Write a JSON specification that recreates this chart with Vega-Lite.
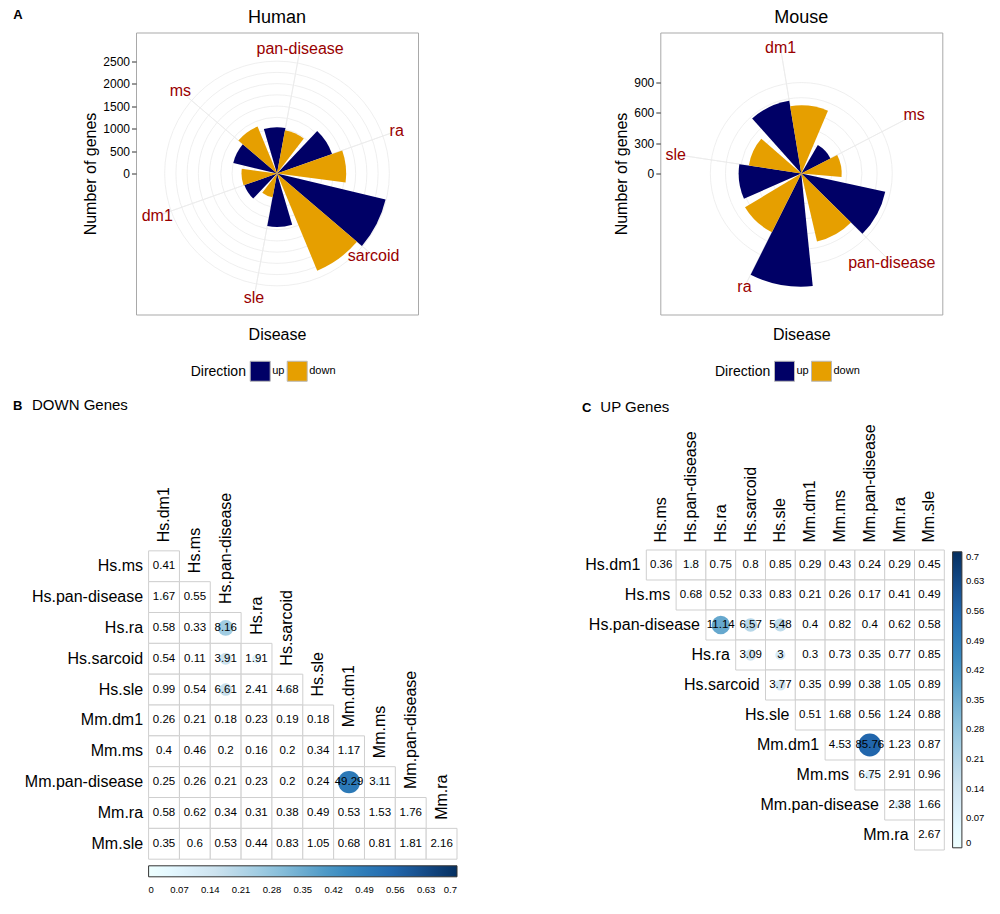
{
  "$schema": "https://vega.github.io/schema/vega-lite/v6.json",
  "padding": {"left": 13, "top": 7.5, "right": 5, "bottom": 5},
  "background": "white",
  "config": {
    "font": "Liberation Sans",
    "view": {"stroke": null},
    "axis": {"grid": false, "labelColor": "black", "titleColor": "black"},
    "title": {"color": "black", "fontWeight": "normal"}
  },
  "datasets": {
    "human": [
      {"disease": "dm1", "direction": "up", "genes": 770},
      {"disease": "dm1", "direction": "down", "genes": 790},
      {"disease": "ms", "direction": "up", "genes": 1000},
      {"disease": "ms", "direction": "down", "genes": 1130},
      {"disease": "pan-disease", "direction": "up", "genes": 1030},
      {"disease": "pan-disease", "direction": "down", "genes": 980},
      {"disease": "ra", "direction": "up", "genes": 1300},
      {"disease": "ra", "direction": "down", "genes": 1540},
      {"disease": "sarcoid", "direction": "up", "genes": 2485},
      {"disease": "sarcoid", "direction": "down", "genes": 2340},
      {"disease": "sle", "direction": "up", "genes": 1190},
      {"disease": "sle", "direction": "down", "genes": 540}
    ],
    "mouse": [
      {"disease": "dm1", "direction": "up", "genes": 730},
      {"disease": "dm1", "direction": "down", "genes": 675},
      {"disease": "ms", "direction": "up", "genes": 325},
      {"disease": "ms", "direction": "down", "genes": 400},
      {"disease": "pan-disease", "direction": "up", "genes": 850},
      {"disease": "pan-disease", "direction": "down", "genes": 690},
      {"disease": "ra", "direction": "up", "genes": 1120},
      {"disease": "ra", "direction": "down", "genes": 650},
      {"disease": "sle", "direction": "up", "genes": 620},
      {"disease": "sle", "direction": "down", "genes": 525}
    ],
    "humanGrid": [{"r": 0}, {"r": 250}, {"r": 500}, {"r": 750}, {"r": 1000}, {"r": 1250}, {"r": 1500}, {"r": 1750}, {"r": 2000}, {"r": 2250}, {"r": 2500}],
    "mouseGrid": [{"r": 0}, {"r": 150}, {"r": 300}, {"r": 450}, {"r": 600}, {"r": 750}, {"r": 900}],
    "varsA": [{"var": "Hs.dm1"}, {"var": "Hs.ms"}, {"var": "Hs.pan-disease"}, {"var": "Hs.ra"}, {"var": "Hs.sarcoid"}, {"var": "Hs.sle"}, {"var": "Mm.dm1"}, {"var": "Mm.ms"}, {"var": "Mm.pan-disease"}, {"var": "Mm.ra"}],
    "varsB": [{"var": "Hs.ms"}, {"var": "Hs.pan-disease"}, {"var": "Hs.ra"}, {"var": "Hs.sarcoid"}, {"var": "Hs.sle"}, {"var": "Mm.dm1"}, {"var": "Mm.ms"}, {"var": "Mm.pan-disease"}, {"var": "Mm.ra"}, {"var": "Mm.sle"}],
    "down": [
      {"row": "Hs.ms", "col": "Hs.dm1", "val": 0.41, "v": 0.01},
      {"row": "Hs.pan-disease", "col": "Hs.dm1", "val": 1.67, "v": 0.03},
      {"row": "Hs.pan-disease", "col": "Hs.ms", "val": 0.55, "v": 0.01},
      {"row": "Hs.ra", "col": "Hs.dm1", "val": 0.58, "v": 0.01},
      {"row": "Hs.ra", "col": "Hs.ms", "val": 0.33, "v": 0.005},
      {"row": "Hs.ra", "col": "Hs.pan-disease", "val": 8.16, "v": 0.25},
      {"row": "Hs.sarcoid", "col": "Hs.dm1", "val": 0.54, "v": 0.01},
      {"row": "Hs.sarcoid", "col": "Hs.ms", "val": 0.11, "v": 0.003},
      {"row": "Hs.sarcoid", "col": "Hs.pan-disease", "val": 3.91, "v": 0.15},
      {"row": "Hs.sarcoid", "col": "Hs.ra", "val": 1.91, "v": 0.08},
      {"row": "Hs.sle", "col": "Hs.dm1", "val": 0.99, "v": 0.015},
      {"row": "Hs.sle", "col": "Hs.ms", "val": 0.54, "v": 0.01},
      {"row": "Hs.sle", "col": "Hs.pan-disease", "val": 6.61, "v": 0.16},
      {"row": "Hs.sle", "col": "Hs.ra", "val": 2.41, "v": 0.03},
      {"row": "Hs.sle", "col": "Hs.sarcoid", "val": 4.68, "v": 0.07},
      {"row": "Mm.dm1", "col": "Hs.dm1", "val": 0.26, "v": 0.005},
      {"row": "Mm.dm1", "col": "Hs.ms", "val": 0.21, "v": 0.005},
      {"row": "Mm.dm1", "col": "Hs.pan-disease", "val": 0.18, "v": 0.005},
      {"row": "Mm.dm1", "col": "Hs.ra", "val": 0.23, "v": 0.005},
      {"row": "Mm.dm1", "col": "Hs.sarcoid", "val": 0.19, "v": 0.005},
      {"row": "Mm.dm1", "col": "Hs.sle", "val": 0.18, "v": 0.005},
      {"row": "Mm.ms", "col": "Hs.dm1", "val": 0.4, "v": 0.01},
      {"row": "Mm.ms", "col": "Hs.ms", "val": 0.46, "v": 0.01},
      {"row": "Mm.ms", "col": "Hs.pan-disease", "val": 0.2, "v": 0.005},
      {"row": "Mm.ms", "col": "Hs.ra", "val": 0.16, "v": 0.005},
      {"row": "Mm.ms", "col": "Hs.sarcoid", "val": 0.2, "v": 0.005},
      {"row": "Mm.ms", "col": "Hs.sle", "val": 0.34, "v": 0.008},
      {"row": "Mm.ms", "col": "Mm.dm1", "val": 1.17, "v": 0.03},
      {"row": "Mm.pan-disease", "col": "Hs.dm1", "val": 0.25, "v": 0.005},
      {"row": "Mm.pan-disease", "col": "Hs.ms", "val": 0.26, "v": 0.005},
      {"row": "Mm.pan-disease", "col": "Hs.pan-disease", "val": 0.21, "v": 0.005},
      {"row": "Mm.pan-disease", "col": "Hs.ra", "val": 0.23, "v": 0.005},
      {"row": "Mm.pan-disease", "col": "Hs.sarcoid", "val": 0.2, "v": 0.005},
      {"row": "Mm.pan-disease", "col": "Hs.sle", "val": 0.24, "v": 0.005},
      {"row": "Mm.pan-disease", "col": "Mm.dm1", "val": 49.29, "v": 0.5},
      {"row": "Mm.pan-disease", "col": "Mm.ms", "val": 3.11, "v": 0.07},
      {"row": "Mm.ra", "col": "Hs.dm1", "val": 0.58, "v": 0.01},
      {"row": "Mm.ra", "col": "Hs.ms", "val": 0.62, "v": 0.01},
      {"row": "Mm.ra", "col": "Hs.pan-disease", "val": 0.34, "v": 0.008},
      {"row": "Mm.ra", "col": "Hs.ra", "val": 0.31, "v": 0.008},
      {"row": "Mm.ra", "col": "Hs.sarcoid", "val": 0.38, "v": 0.008},
      {"row": "Mm.ra", "col": "Hs.sle", "val": 0.49, "v": 0.01},
      {"row": "Mm.ra", "col": "Mm.dm1", "val": 0.53, "v": 0.01},
      {"row": "Mm.ra", "col": "Mm.ms", "val": 1.53, "v": 0.02},
      {"row": "Mm.ra", "col": "Mm.pan-disease", "val": 1.76, "v": 0.03},
      {"row": "Mm.sle", "col": "Hs.dm1", "val": 0.35, "v": 0.008},
      {"row": "Mm.sle", "col": "Hs.ms", "val": 0.6, "v": 0.01},
      {"row": "Mm.sle", "col": "Hs.pan-disease", "val": 0.53, "v": 0.01},
      {"row": "Mm.sle", "col": "Hs.ra", "val": 0.44, "v": 0.01},
      {"row": "Mm.sle", "col": "Hs.sarcoid", "val": 0.83, "v": 0.012},
      {"row": "Mm.sle", "col": "Hs.sle", "val": 1.05, "v": 0.015},
      {"row": "Mm.sle", "col": "Mm.dm1", "val": 0.68, "v": 0.01},
      {"row": "Mm.sle", "col": "Mm.ms", "val": 0.81, "v": 0.012},
      {"row": "Mm.sle", "col": "Mm.pan-disease", "val": 1.81, "v": 0.03},
      {"row": "Mm.sle", "col": "Mm.ra", "val": 2.16, "v": 0.02}
    ],
    "up": [
      {"row": "Hs.dm1", "col": "Hs.ms", "val": 0.36, "v": 0.008},
      {"row": "Hs.dm1", "col": "Hs.pan-disease", "val": 1.8, "v": 0.04},
      {"row": "Hs.dm1", "col": "Hs.ra", "val": 0.75, "v": 0.01},
      {"row": "Hs.dm1", "col": "Hs.sarcoid", "val": 0.8, "v": 0.01},
      {"row": "Hs.dm1", "col": "Hs.sle", "val": 0.85, "v": 0.012},
      {"row": "Hs.dm1", "col": "Mm.dm1", "val": 0.29, "v": 0.005},
      {"row": "Hs.dm1", "col": "Mm.ms", "val": 0.43, "v": 0.008},
      {"row": "Hs.dm1", "col": "Mm.pan-disease", "val": 0.24, "v": 0.005},
      {"row": "Hs.dm1", "col": "Mm.ra", "val": 0.29, "v": 0.005},
      {"row": "Hs.dm1", "col": "Mm.sle", "val": 0.45, "v": 0.008},
      {"row": "Hs.ms", "col": "Hs.pan-disease", "val": 0.68, "v": 0.01},
      {"row": "Hs.ms", "col": "Hs.ra", "val": 0.52, "v": 0.01},
      {"row": "Hs.ms", "col": "Hs.sarcoid", "val": 0.33, "v": 0.006},
      {"row": "Hs.ms", "col": "Hs.sle", "val": 0.83, "v": 0.02},
      {"row": "Hs.ms", "col": "Mm.dm1", "val": 0.21, "v": 0.005},
      {"row": "Hs.ms", "col": "Mm.ms", "val": 0.26, "v": 0.005},
      {"row": "Hs.ms", "col": "Mm.pan-disease", "val": 0.17, "v": 0.004},
      {"row": "Hs.ms", "col": "Mm.ra", "val": 0.41, "v": 0.008},
      {"row": "Hs.ms", "col": "Mm.sle", "val": 0.49, "v": 0.008},
      {"row": "Hs.pan-disease", "col": "Hs.ra", "val": 11.14, "v": 0.36},
      {"row": "Hs.pan-disease", "col": "Hs.sarcoid", "val": 6.57, "v": 0.2},
      {"row": "Hs.pan-disease", "col": "Hs.sle", "val": 5.48, "v": 0.18},
      {"row": "Hs.pan-disease", "col": "Mm.dm1", "val": 0.4, "v": 0.02},
      {"row": "Hs.pan-disease", "col": "Mm.ms", "val": 0.82, "v": 0.01},
      {"row": "Hs.pan-disease", "col": "Mm.pan-disease", "val": 0.4, "v": 0.02},
      {"row": "Hs.pan-disease", "col": "Mm.ra", "val": 0.62, "v": 0.01},
      {"row": "Hs.pan-disease", "col": "Mm.sle", "val": 0.58, "v": 0.01},
      {"row": "Hs.ra", "col": "Hs.sarcoid", "val": 3.09, "v": 0.14},
      {"row": "Hs.ra", "col": "Hs.sle", "val": 3, "v": 0.11},
      {"row": "Hs.ra", "col": "Mm.dm1", "val": 0.3, "v": 0.005},
      {"row": "Hs.ra", "col": "Mm.ms", "val": 0.73, "v": 0.01},
      {"row": "Hs.ra", "col": "Mm.pan-disease", "val": 0.35, "v": 0.006},
      {"row": "Hs.ra", "col": "Mm.ra", "val": 0.77, "v": 0.01},
      {"row": "Hs.ra", "col": "Mm.sle", "val": 0.85, "v": 0.012},
      {"row": "Hs.sarcoid", "col": "Hs.sle", "val": 3.77, "v": 0.13},
      {"row": "Hs.sarcoid", "col": "Mm.dm1", "val": 0.35, "v": 0.006},
      {"row": "Hs.sarcoid", "col": "Mm.ms", "val": 0.99, "v": 0.012},
      {"row": "Hs.sarcoid", "col": "Mm.pan-disease", "val": 0.38, "v": 0.006},
      {"row": "Hs.sarcoid", "col": "Mm.ra", "val": 1.05, "v": 0.012},
      {"row": "Hs.sarcoid", "col": "Mm.sle", "val": 0.89, "v": 0.012},
      {"row": "Hs.sle", "col": "Mm.dm1", "val": 0.51, "v": 0.008},
      {"row": "Hs.sle", "col": "Mm.ms", "val": 1.68, "v": 0.015},
      {"row": "Hs.sle", "col": "Mm.pan-disease", "val": 0.56, "v": 0.008},
      {"row": "Hs.sle", "col": "Mm.ra", "val": 1.24, "v": 0.015},
      {"row": "Hs.sle", "col": "Mm.sle", "val": 0.88, "v": 0.012},
      {"row": "Mm.dm1", "col": "Mm.ms", "val": 4.53, "v": 0.035},
      {"row": "Mm.dm1", "col": "Mm.pan-disease", "val": 85.76, "v": 0.56},
      {"row": "Mm.dm1", "col": "Mm.ra", "val": 1.23, "v": 0.012},
      {"row": "Mm.dm1", "col": "Mm.sle", "val": 0.87, "v": 0.008},
      {"row": "Mm.ms", "col": "Mm.pan-disease", "val": 6.75, "v": 0.1},
      {"row": "Mm.ms", "col": "Mm.ra", "val": 2.91, "v": 0.012},
      {"row": "Mm.ms", "col": "Mm.sle", "val": 0.96, "v": 0.008},
      {"row": "Mm.pan-disease", "col": "Mm.ra", "val": 2.38, "v": 0.1},
      {"row": "Mm.pan-disease", "col": "Mm.sle", "val": 1.66, "v": 0.03},
      {"row": "Mm.ra", "col": "Mm.sle", "val": 2.67, "v": 0.012}
    ]
  },
  "spacing": 487.5,
  "bounds": "flush",
  "resolve": {"scale": {"color": "independent", "size": "independent", "x": "independent", "y": "independent", "theta": "independent", "radius": "independent"}, "legend": {"color": "independent", "size": "independent"}},
  "vconcat": [
    {
      "title": {"text": "A", "anchor": "start", "frame": "group", "fontSize": 13, "fontWeight": "bold", "dx": -122.7, "offset": 0, "dy": 14},
      "spacing": 242.3,
      "bounds": "flush",
      "resolve": {"scale": {"color": "independent", "x": "independent", "y": "independent", "theta": "independent", "radius": "independent"}, "legend": {"color": "independent"}},
      "hconcat": [
        {
          "width": 282, "height": 282,
          "view": {"stroke": "#a9a9a9", "strokeWidth": 1},
          "title": {"text": "Human", "fontSize": 18, "anchor": "middle", "offset": 6},
          "resolve": {"scale": {"theta": "independent"}},
          "layer": [
            {
              "data": {"name": "humanGrid"},
              "mark": {"type": "arc", "filled": false, "stroke": "#ebebeb", "strokeWidth": 0.8, "theta": 0, "theta2": 6.2832},
              "encoding": {"radius": {"field": "r", "type": "quantitative", "stack": null, "scale": {"type": "linear", "domain": [0, 2530], "range": [0, 113.7], "zero": true}}}
            },
            {
              "data": {"name": "human"},
              "transform": [{"filter": "datum.direction == 'up'"}],
              "mark": {"type": "arc", "filled": false, "stroke": "#ebebeb", "strokeWidth": 0.8, "radius": 124, "padAngle": 1.5},
              "encoding": {
                "theta": {"aggregate": "count", "type": "quantitative", "stack": true, "scale": {"range": [-2.4347, 3.8485]}},
                "order": {"field": "disease"},
                "detail": {"field": "disease"}
              }
            },
            {
              "data": {"name": "human"},
              "transform": [
                {"filter": "datum.direction == 'up'"},
                {"joinaggregate": [{"op": "count", "as": "n"}], "groupby": ["disease"]},
                {"stack": "n", "groupby": [], "sort": [{"field": "disease", "order": "ascending"}], "as": ["t0", "t1"]}
              ],
              "mark": {"type": "arc", "padAngle": 0.576},
              "encoding": {
                "theta": {"field": "t0", "type": "quantitative", "stack": null, "scale": {"domain": [0, 6], "range": [-2.6704, 3.6128]}},
                "theta2": {"field": "t1"},
                "radius": {"field": "genes", "type": "quantitative", "stack": null, "scale": {"type": "linear", "domain": [0, 2530], "range": [0, 113.7], "zero": true}},
                "color": {"field": "direction", "type": "nominal", "scale": {"domain": ["up", "down"], "range": ["#000066", "#E69F00"]},
                  "legend": {"orient": "none", "legendX": 54.7, "legendY": 328, "direction": "horizontal", "titleOrient": "left", "title": "Direction", "symbolType": "square", "symbolSize": 400, "symbolStrokeColor": "#b8b8b8", "symbolStrokeWidth": 1, "symbolOpacity": 1, "labelFontSize": 11, "titleFontSize": 14, "titleFontWeight": "normal", "titlePadding": 3, "columnPadding": 0, "labelOffset": 1.5, "titleBaseline": "middle", "titleColor": "black", "labelColor": "black"}}
              }
            },
            {
              "data": {"name": "human"},
              "transform": [
                {"filter": "datum.direction == 'down'"},
                {"joinaggregate": [{"op": "count", "as": "n"}], "groupby": ["disease"]},
                {"stack": "n", "groupby": [], "sort": [{"field": "disease", "order": "ascending"}], "as": ["t0", "t1"]}
              ],
              "mark": {"type": "arc", "padAngle": 0.576},
              "encoding": {
                "theta": {"field": "t0", "type": "quantitative", "stack": null, "scale": {"domain": [0, 6], "range": [-2.1991, 4.0841]}},
                "theta2": {"field": "t1"},
                "radius": {"field": "genes", "type": "quantitative", "stack": null, "scale": {"type": "linear", "domain": [0, 2530], "range": [0, 113.7], "zero": true}},
                "color": {"field": "direction", "type": "nominal", "scale": {"domain": ["up", "down"], "range": ["#000066", "#E69F00"]}}
              }
            },
            {
              "data": {"name": "human"},
              "transform": [{"filter": "datum.direction == 'up'"}],
              "mark": {"type": "text", "radius": 127, "fontSize": 16, "color": "#990000"},
              "encoding": {
                "theta": {"aggregate": "count", "type": "quantitative", "stack": true, "scale": {"range": [-2.4347, 3.8485]}},
                "text": {"field": "disease", "type": "nominal"},
                "order": {"field": "disease"}
              }
            },
            {
              "data": {"name": "humanGrid"},
              "mark": {"type": "point", "opacity": 0},
              "encoding": {
                "y": {"field": "r", "type": "quantitative", "scale": {"domain": [-3138, 3138]},
                  "axis": {"values": [0, 500, 1000, 1500, 2000, 2500], "format": "d", "domain": false, "ticks": true, "tickSize": 4.5, "tickColor": "#333333", "labelFontSize": 12, "labelPadding": 2, "title": "Number of genes", "titleFontSize": 16, "titleFontWeight": "normal", "titlePadding": 4}},
                "x": {"datum": 0.5, "type": "quantitative", "scale": {"domain": [0, 1]},
                  "axis": {"title": "Disease", "labels": false, "ticks": false, "domain": false, "titleFontSize": 16, "titleFontWeight": "normal", "titlePadding": 12}}
              }
            }
          ]
        },
        {
          "width": 282, "height": 282,
          "view": {"stroke": "#a9a9a9", "strokeWidth": 1},
          "title": {"text": "Mouse", "fontSize": 18, "anchor": "middle", "offset": 6},
          "resolve": {"scale": {"theta": "independent"}},
          "layer": [
            {
              "data": {"name": "mouseGrid"},
              "mark": {"type": "arc", "filled": false, "stroke": "#ebebeb", "strokeWidth": 0.8, "theta": 0, "theta2": 6.2832},
              "encoding": {"radius": {"field": "r", "type": "quantitative", "stack": null, "scale": {"type": "linear", "domain": [0, 1125], "range": [0, 113.7], "zero": true}}}
            },
            {
              "data": {"name": "mouse"},
              "transform": [{"filter": "datum.direction == 'up'"}],
              "mark": {"type": "arc", "filled": false, "stroke": "#ebebeb", "strokeWidth": 0.8, "radius": 124, "padAngle": 1.5},
              "encoding": {
                "theta": {"aggregate": "count", "type": "quantitative", "stack": true, "scale": {"range": [-0.7924, 5.4908]}},
                "order": {"field": "disease"},
                "detail": {"field": "disease"}
              }
            },
            {
              "data": {"name": "mouse"},
              "transform": [
                {"filter": "datum.direction == 'up'"},
                {"joinaggregate": [{"op": "count", "as": "n"}], "groupby": ["disease"]},
                {"stack": "n", "groupby": [], "sort": [{"field": "disease", "order": "ascending"}], "as": ["t0", "t1"]}
              ],
              "mark": {"type": "arc", "padAngle": 0.6912},
              "encoding": {
                "theta": {"field": "t0", "type": "quantitative", "stack": null, "scale": {"domain": [0, 5], "range": [-1.0751, 5.2081]}},
                "theta2": {"field": "t1"},
                "radius": {"field": "genes", "type": "quantitative", "stack": null, "scale": {"type": "linear", "domain": [0, 1125], "range": [0, 113.7], "zero": true}},
                "color": {"field": "direction", "type": "nominal", "scale": {"domain": ["up", "down"], "range": ["#000066", "#E69F00"]},
                  "legend": {"orient": "none", "legendX": 54.7, "legendY": 328, "direction": "horizontal", "titleOrient": "left", "title": "Direction", "symbolType": "square", "symbolSize": 400, "symbolStrokeColor": "#b8b8b8", "symbolStrokeWidth": 1, "symbolOpacity": 1, "labelFontSize": 11, "titleFontSize": 14, "titleFontWeight": "normal", "titlePadding": 3, "columnPadding": 0, "labelOffset": 1.5, "titleBaseline": "middle", "titleColor": "black", "labelColor": "black"}}
              }
            },
            {
              "data": {"name": "mouse"},
              "transform": [
                {"filter": "datum.direction == 'down'"},
                {"joinaggregate": [{"op": "count", "as": "n"}], "groupby": ["disease"]},
                {"stack": "n", "groupby": [], "sort": [{"field": "disease", "order": "ascending"}], "as": ["t0", "t1"]}
              ],
              "mark": {"type": "arc", "padAngle": 0.6912},
              "encoding": {
                "theta": {"field": "t0", "type": "quantitative", "stack": null, "scale": {"domain": [0, 5], "range": [-0.5096, 5.7736]}},
                "theta2": {"field": "t1"},
                "radius": {"field": "genes", "type": "quantitative", "stack": null, "scale": {"type": "linear", "domain": [0, 1125], "range": [0, 113.7], "zero": true}},
                "color": {"field": "direction", "type": "nominal", "scale": {"domain": ["up", "down"], "range": ["#000066", "#E69F00"]}}
              }
            },
            {
              "data": {"name": "mouse"},
              "transform": [{"filter": "datum.direction == 'up'"}],
              "mark": {"type": "text", "radius": 127, "fontSize": 16, "color": "#990000"},
              "encoding": {
                "theta": {"aggregate": "count", "type": "quantitative", "stack": true, "scale": {"range": [-0.7924, 5.4908]}},
                "text": {"field": "disease", "type": "nominal"},
                "order": {"field": "disease"}
              }
            },
            {
              "data": {"name": "mouseGrid"},
              "mark": {"type": "point", "opacity": 0},
              "encoding": {
                "y": {"field": "r", "type": "quantitative", "scale": {"domain": [-1395, 1395]},
                  "axis": {"values": [0, 300, 600, 900], "format": "d", "domain": false, "ticks": true, "tickSize": 4.5, "tickColor": "#333333", "labelFontSize": 12, "labelPadding": 2, "title": "Number of genes", "titleFontSize": 16, "titleFontWeight": "normal", "titlePadding": 4}},
                "x": {"datum": 0.5, "type": "quantitative", "scale": {"domain": [0, 1]},
                  "axis": {"title": "Disease", "labels": false, "ticks": false, "domain": false, "titleFontSize": 16, "titleFontWeight": "normal", "titlePadding": 12}}
              }
            }
          ]
        }
      ]
    },
    {
      "spacing": 480.5,
      "bounds": "flush",
      "resolve": {"scale": {"color": "independent", "size": "independent", "x": "independent", "y": "independent"}, "legend": {"color": "independent", "size": "independent"}},
      "hconcat": [
        {
          "title": {"text": "B", "anchor": "start", "frame": "group", "fontSize": 13, "fontWeight": "bold", "dx": -123, "offset": 0, "dy": 15},
          "bounds": "flush",
          "vconcat": [
            {
              "width": 321, "height": 339.2,
              "title": {"text": "DOWN Genes", "anchor": "start", "frame": "group", "fontSize": 15, "dx": -104, "offset": 74},
              "layer": [
                {
                  "data": {"name": "down"},
                  "mark": {"type": "rect", "fill": "white", "stroke": "#cfcfcf", "strokeWidth": 1},
                  "encoding": {
                    "x": {"field": "col", "type": "nominal", "scale": {"type": "band", "domain": ["Hs.dm1", "Hs.ms", "Hs.pan-disease", "Hs.ra", "Hs.sarcoid", "Hs.sle", "Mm.dm1", "Mm.ms", "Mm.pan-disease", "Mm.ra"], "paddingInner": 0, "paddingOuter": 0.2043, "align": 1}, "axis": null},
                    "y": {"field": "row", "type": "nominal", "scale": {"type": "band", "domain": ["Hs.dm1", "Hs.ms", "Hs.pan-disease", "Hs.ra", "Hs.sarcoid", "Hs.sle", "Mm.dm1", "Mm.ms", "Mm.pan-disease", "Mm.ra", "Mm.sle"], "paddingInner": 0, "paddingOuter": 0},
                      "axis": {"values": ["Hs.ms", "Hs.pan-disease", "Hs.ra", "Hs.sarcoid", "Hs.sle", "Mm.dm1", "Mm.ms", "Mm.pan-disease", "Mm.ra", "Mm.sle"], "offset": -12.6, "domain": false, "ticks": false, "labelFontSize": 16, "labelPadding": 6, "labelLimit": 0, "title": null}}
                  }
                },
                {
                  "data": {"name": "down"},
                  "mark": {"type": "circle", "opacity": 1},
                  "encoding": {
                    "x": {"field": "col", "type": "nominal", "axis": null},
                    "y": {"field": "row", "type": "nominal", "axis": {"values": ["Hs.ms", "Hs.pan-disease", "Hs.ra", "Hs.sarcoid", "Hs.sle", "Mm.dm1", "Mm.ms", "Mm.pan-disease", "Mm.ra", "Mm.sle"], "offset": -12.6, "domain": false, "ticks": false, "labelFontSize": 16, "labelPadding": 6, "labelLimit": 0, "title": null}},
                    "size": {"field": "v", "type": "quantitative", "scale": {"domain": [0, 0.7], "range": [0, 687]}, "legend": null},
                    "color": {"field": "v", "type": "quantitative", "scale": {"domain": [0, 0.14, 0.28, 0.42, 0.56, 0.7], "range": ["#FFFFFF", "#D1E5F0", "#92C5DE", "#4393C3", "#2166AC", "#053061"]},
                      "legend": {"orient": "none", "legendX": 12.6, "legendY": 345.8, "direction": "horizontal", "gradientLength": 308.4, "gradientThickness": 11, "title": null, "values": [0, 0.07, 0.14, 0.21, 0.28, 0.35, 0.42, 0.49, 0.56, 0.63, 0.7], "format": ".2~f", "labelFontSize": 9.5, "labelAlign": "center", "labelOffset": 8, "labelOverlap": false, "gradientStrokeColor": "#333333", "gradientStrokeWidth": 1, "labelColor": "black"}}
                  }
                },
                {
                  "data": {"name": "down"},
                  "mark": {"type": "text", "fontSize": 11.5, "color": "black"},
                  "encoding": {
                    "x": {"field": "col", "type": "nominal", "axis": null},
                    "y": {"field": "row", "type": "nominal", "axis": {"values": ["Hs.ms", "Hs.pan-disease", "Hs.ra", "Hs.sarcoid", "Hs.sle", "Mm.dm1", "Mm.ms", "Mm.pan-disease", "Mm.ra", "Mm.sle"], "offset": -12.6, "domain": false, "ticks": false, "labelFontSize": 16, "labelPadding": 6, "labelLimit": 0, "title": null}},
                    "text": {"field": "val", "type": "nominal"}
                  }
                },
                {
                  "data": {"name": "varsA"},
                  "mark": {"type": "text", "fontSize": 16, "color": "black", "angle": 270, "align": "left", "baseline": "middle", "dx": -6.9},
                  "encoding": {
                    "x": {"field": "var", "type": "nominal", "axis": null},
                    "y": {"field": "var", "type": "nominal", "axis": {"values": ["Hs.ms", "Hs.pan-disease", "Hs.ra", "Hs.sarcoid", "Hs.sle", "Mm.dm1", "Mm.ms", "Mm.pan-disease", "Mm.ra", "Mm.sle"], "offset": -12.6, "domain": false, "ticks": false, "labelFontSize": 16, "labelPadding": 6, "labelLimit": 0, "title": null}},
                    "text": {"field": "var", "type": "nominal"}
                  }
                }
              ]
            }
          ]
        },
        {
          "title": {"text": "C", "anchor": "start", "frame": "group", "fontSize": 13, "fontWeight": "bold", "dx": -34.5, "offset": 0, "dy": 15},
          "bounds": "flush",
          "vconcat": [
            {
              "width": 327.8, "height": 330,
              "title": {"text": "UP Genes", "anchor": "start", "frame": "group", "fontSize": 15, "dx": -16.2, "offset": 9},
              "layer": [
                {
                  "data": {"name": "up"},
                  "mark": {"type": "rect", "fill": "white", "stroke": "#cfcfcf", "strokeWidth": 1},
                  "encoding": {
                    "x": {"field": "col", "type": "nominal", "scale": {"type": "band", "domain": ["Hs.dm1", "Hs.ms", "Hs.pan-disease", "Hs.ra", "Hs.sarcoid", "Hs.sle", "Mm.dm1", "Mm.ms", "Mm.pan-disease", "Mm.ra", "Mm.sle"], "paddingInner": 0, "paddingOuter": 0}, "axis": null},
                    "y": {"field": "row", "type": "nominal", "scale": {"type": "band", "domain": ["Hs.dm1", "Hs.ms", "Hs.pan-disease", "Hs.ra", "Hs.sarcoid", "Hs.sle", "Mm.dm1", "Mm.ms", "Mm.pan-disease", "Mm.ra"], "paddingInner": 0, "paddingOuter": 0.5, "align": 1}, "axis": null}
                  }
                },
                {
                  "data": {"name": "up"},
                  "mark": {"type": "circle", "opacity": 1},
                  "encoding": {
                    "x": {"field": "col", "type": "nominal", "axis": null},
                    "y": {"field": "row", "type": "nominal", "axis": null},
                    "size": {"field": "v", "type": "quantitative", "scale": {"domain": [0, 0.7], "range": [0, 660]}, "legend": null},
                    "color": {"field": "v", "type": "quantitative", "scale": {"domain": [0, 0.14, 0.28, 0.42, 0.56, 0.7], "range": ["#FFFFFF", "#D1E5F0", "#92C5DE", "#4393C3", "#2166AC", "#053061"]},
                      "legend": {"orient": "none", "legendX": 336.1, "legendY": 31.8, "direction": "vertical", "gradientLength": 296, "gradientThickness": 9.3, "title": null, "values": [0, 0.07, 0.14, 0.21, 0.28, 0.35, 0.42, 0.49, 0.56, 0.63, 0.7], "format": ".2~f", "labelFontSize": 9.5, "labelOffset": 4, "labelOverlap": false, "gradientStrokeColor": "#333333", "gradientStrokeWidth": 1, "labelColor": "black"}}
                  }
                },
                {
                  "data": {"name": "up"},
                  "mark": {"type": "text", "fontSize": 11.5, "color": "black"},
                  "encoding": {
                    "x": {"field": "col", "type": "nominal", "axis": null},
                    "y": {"field": "row", "type": "nominal", "axis": null},
                    "text": {"field": "val", "type": "nominal"}
                  }
                },
                {
                  "data": {"name": "varsA"},
                  "mark": {"type": "text", "fontSize": 16, "color": "black", "align": "right", "baseline": "middle", "dx": 9},
                  "encoding": {
                    "x": {"field": "var", "type": "nominal", "axis": null},
                    "y": {"field": "var", "type": "nominal", "axis": null},
                    "text": {"field": "var", "type": "nominal"}
                  }
                },
                {
                  "data": {"name": "varsB"},
                  "mark": {"type": "text", "fontSize": 16, "color": "black", "angle": 270, "align": "left", "baseline": "middle", "dx": 22.5},
                  "encoding": {
                    "x": {"field": "var", "type": "nominal", "axis": null},
                    "y": {"datum": "Hs.dm1", "type": "nominal", "axis": null},
                    "text": {"field": "var", "type": "nominal"}
                  }
                }
              ]
            }
          ]
        }
      ]
    }
  ]
}
